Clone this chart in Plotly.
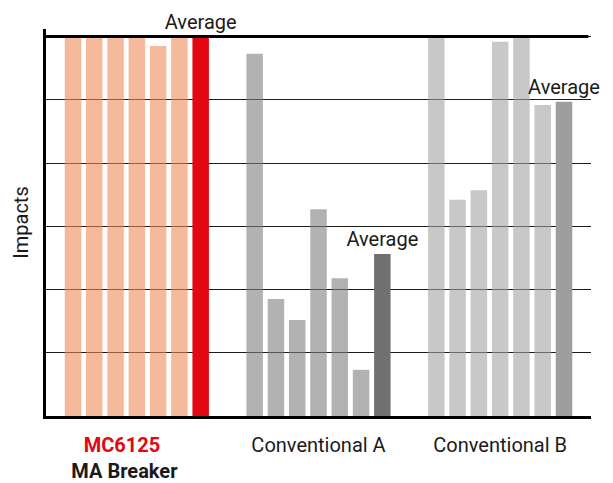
import plotly.graph_objects as go

categories = ["MC6125 MA Breaker", "Conventional A", "Conventional B"]
tick_labels = [
    "<span style='color:#E30613'><b>MC6125</b></span>&nbsp;&nbsp;&nbsp;&nbsp;&nbsp;&nbsp;<br><b>MA Breaker</b>&nbsp;&nbsp;&nbsp;&nbsp;&nbsp;",
    "Conventional A",
    "Conventional B",
]
# individual samples per group (6 each) and the group average
mc6125 = [6.0, 6.0, 6.0, 6.0, 5.85, 6.0]
conv_a = [5.73, 1.85, 1.52, 3.27, 2.18, 0.73]
conv_b = [6.0, 3.42, 3.57, 5.92, 6.0, 4.92]
averages = [6.0, 2.56, 4.97]
average_label = "Average"

light_colors = ["rgb(238,138,88)", "rgb(127,127,127)", "rgb(163,163,163)"]
avg_colors = ["#E30613", "#707070", "#9E9E9E"]

FONT = "Roboto"
FS = 20
fig = go.Figure()
for i in range(6):
    fig.add_trace(go.Bar(
        x=categories,
        y=[mc6125[i], conv_a[i], conv_b[i]],
        marker=dict(color=light_colors, opacity=0.6, line=dict(width=0)),
        showlegend=False, hoverinfo="skip",
    ))
fig.add_trace(go.Bar(
    x=categories, y=averages,
    marker=dict(color=avg_colors, line=dict(width=0)),
    text=[average_label] * 3, textposition="outside", constraintext="none",
    textfont=dict(family=FONT, size=FS, color="#1a1a1a"),
    cliponaxis=False, showlegend=False, hoverinfo="skip",
))

fig.add_shape(type="line", xref="paper", yref="y", x0=0, x1=0.995, y0=6, y1=6,
              line=dict(color="black", width=3), layer="above")

fig.update_layout(
    width=613, height=483,
    margin=dict(l=38, r=30, t=21, b=75),
    paper_bgcolor="white", plot_bgcolor="white",
    barmode="group", bargap=0.18, bargroupgap=0.225,
    font=dict(family=FONT, size=FS, color="#1a1a1a"),
)
fig.update_xaxes(
    type="category", range=[-0.5, 2.5], automargin=False,
    tickmode="array", tickvals=categories, ticktext=tick_labels,
    showline=True, linewidth=3, linecolor="black",
    ticks="outside", ticklen=9, tickcolor="white",
    tickfont=dict(family=FONT, size=FS, color="#1a1a1a"),
    showgrid=False, zeroline=False,
)
fig.update_yaxes(
    range=[0, 6.12], dtick=1, tick0=0, automargin=False,
    showgrid=True, gridcolor="#1a1a1a", gridwidth=1,
    showticklabels=False, zeroline=False,
    showline=True, linewidth=3, linecolor="black",
    title=dict(text="Impacts", font=dict(family=FONT, size=FS, color="#1a1a1a"), standoff=10),
)
fig.write_html("out.html")
